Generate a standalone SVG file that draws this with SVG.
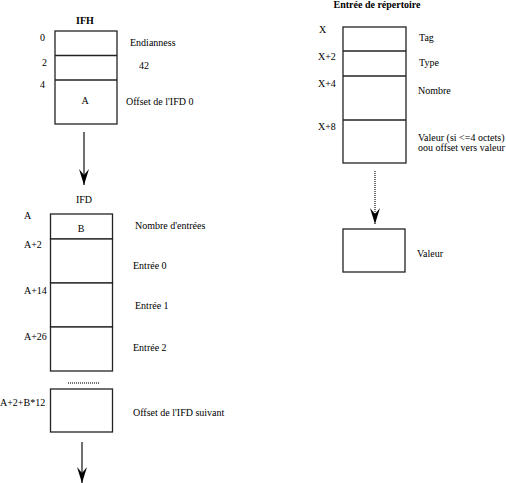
<svg xmlns="http://www.w3.org/2000/svg" width="506" height="483" viewBox="0 0 506 483">
<style>
text{font-family:"Liberation Serif","Times New Roman",serif;font-size:10px;fill:#000}
.b{font-weight:bold}
.m{text-anchor:middle}
rect{fill:#fff;stroke:#222;stroke-width:1.3}
.c{stroke:#222;stroke-width:1.3;fill:none}
.d{stroke:#444;stroke-width:1.5;fill:none;stroke-dasharray:1 1}
</style>
<defs>
<marker id="ah" viewBox="0 0 16 10" refX="16" refY="5" markerWidth="16" markerHeight="10" markerUnits="userSpaceOnUse" orient="auto">
<path d="M0,0 L6,5 L0,10 L16,5 Z" fill="#000"/>
</marker>
</defs>
<g id="ifh">
<text class="b m" x="85" y="24">IFH</text>
<rect x="55" y="31" width="62" height="93"/>
<line class="c" x1="55" y1="55.5" x2="117" y2="55.5"/>
<line class="c" x1="55" y1="80" x2="117" y2="80"/>
<text x="40" y="41">0</text>
<text x="42" y="66">2</text>
<text x="40" y="88">4</text>
<text class="m" x="85" y="104">A</text>
<text x="130" y="46">Endianness</text>
<text x="139" y="69">42</text>
<text x="126" y="105">Offset de l'IFD 0</text>
</g>
<g id="ifd">
<text class="m" x="84" y="203">IFD</text>
<rect x="50.5" y="214" width="62" height="25"/>
<rect x="50.5" y="239" width="62" height="44"/>
<rect x="50.5" y="283" width="62" height="44"/>
<rect x="50.5" y="327" width="62" height="44"/>
<rect x="50.5" y="389" width="62" height="43"/>
<line class="d" x1="68" y1="383" x2="99" y2="383" stroke-width="1"/>
<text x="24" y="219">A</text>
<text class="m" x="81" y="232">B</text>
<text x="135" y="229">Nombre d'entrées</text>
<text x="24" y="248">A+2</text>
<text x="133" y="269">Entrée 0</text>
<text x="24" y="294">A+14</text>
<text x="135" y="309">Entrée 1</text>
<text x="24" y="340">A+26</text>
<text x="133" y="351">Entrée 2</text>
<text x="0" y="406">A+2+B*12</text>
<text x="133" y="416">Offset de l'IFD suivant</text>
</g>
<g id="entree">
<text class="b m" x="377" y="8">Entrée de répertoire</text>
<rect x="343" y="27" width="63" height="136"/>
<line class="c" x1="343" y1="51" x2="406" y2="51"/>
<line class="c" x1="343" y1="76" x2="406" y2="76" stroke-width="1.6"/>
<line class="c" x1="343" y1="120" x2="406" y2="120" stroke-width="1.6"/>
<text x="319" y="33">X</text>
<text x="318" y="60">X+2</text>
<text x="318" y="87">X+4</text>
<text x="318" y="130">X+8</text>
<text x="419" y="41">Tag</text>
<text x="419" y="66">Type</text>
<text x="418" y="94">Nombre</text>
<text x="418" y="141">Valeur (si &lt;=4 octets)</text>
<text x="418" y="151">oou offset vers valeur</text>
</g>
<g id="valeur">
<rect x="343" y="229" width="62" height="43"/>
<text x="417" y="257">Valeur</text>
</g>
<g id="connectors">
<line class="c" x1="84" y1="132" x2="84" y2="185" marker-end="url(#ah)"/>
<line class="d" x1="375" y1="171" x2="375" y2="224" marker-end="url(#ah)"/>
<line class="c" x1="82" y1="442" x2="82" y2="483" marker-end="url(#ah)"/>
</g>
</svg>
